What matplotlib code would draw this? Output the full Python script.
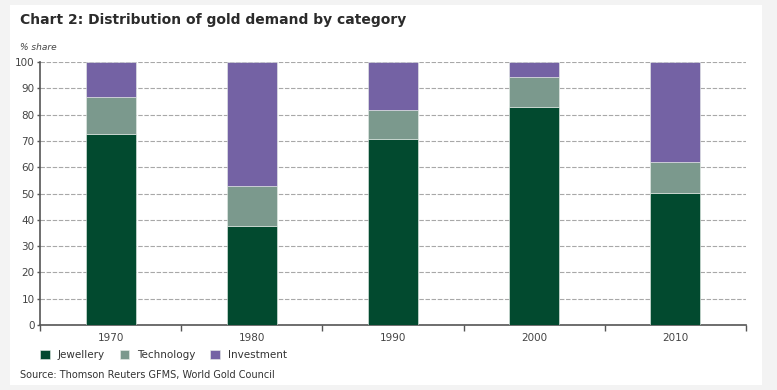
import numpy as np
import matplotlib
matplotlib.use('Agg')
import matplotlib.pyplot as plt
from matplotlib.patches import Rectangle

years = ['1970', '1980', '1990', '2000', '2010']
jewellery = [72.5, 37.5, 70.7, 82.8, 50.3]
technology = [14.3, 15.4, 10.9, 11.4, 11.5]
investment = [13.2, 47.1, 18.4, 5.8, 38.2]
series_names = ['Jewellery', 'Technology', 'Investment']
colors = ['#024a2f', '#7b998d', '#7462a4']

fig = plt.figure(figsize=(7.77, 3.90), dpi=100)
fig.patch.set_facecolor('#f3f3f3')
# white panel
fig.add_artist(Rectangle((10/777, 5/390), 752/777, 380/390, transform=fig.transFigure,
                         facecolor='white', edgecolor='none', zorder=0))

ax = fig.add_axes([40/777, 65/390, 706/777, 263/390])
ax.set_facecolor('none')

x = np.arange(len(years))
bw = 0.355
bottom = np.zeros(len(years))
for vals, col, name in zip([jewellery, technology, investment], colors, series_names):
    ax.bar(x, vals, bw, bottom=bottom, color=col, edgecolor='#e8eee9', linewidth=0.4,
           label=name, zorder=3)
    bottom = bottom + np.array(vals)

ax.set_xlim(-0.5, len(years) - 0.5)
ax.set_ylim(0, 100)
ax.set_yticks(np.arange(0, 101, 10))
ax.yaxis.grid(True, color='#a8a8a8', linestyle=(0, (4, 1.5)), linewidth=0.8, zorder=1)
ax.set_axisbelow(True)

ax.set_xticks(x)
ax.set_xticklabels(years)
ax.set_xticks(np.arange(-0.5, len(years)), minor=True)
ax.tick_params(axis='x', which='major', length=0, pad=6, labelsize=7.5, labelcolor='#444444')
ax.tick_params(axis='x', which='minor', length=4, width=1, color='#555555', direction='out')
ax.tick_params(axis='y', length=2, width=1, color='#555555', pad=2, labelsize=7.5, labelcolor='#444444')

for s in ['top', 'right']:
    ax.spines[s].set_visible(False)
for s in ['left', 'bottom']:
    ax.spines[s].set_color('#555555')
    ax.spines[s].set_linewidth(1.2)

fig.text(20/777, 1 - 20/390, 'Chart 2: Distribution of gold demand by category',
         fontsize=10, fontweight='bold', color='#2b2b2b', va='center', ha='left')
fig.text(20/777, 1 - 47/390, '% share', fontsize=6.5, style='italic', color='#444444',
         va='center', ha='left')

leg = fig.legend(loc='center left', bbox_to_anchor=(36/777, 1 - 355/390), ncol=3,
                 frameon=False, fontsize=7.5, handlelength=0.9, handleheight=0.9,
                 columnspacing=1.4, handletextpad=0.8, borderaxespad=0)
for t in leg.get_texts():
    t.set_color('#333333')

fig.text(20/777, 1 - 375/390, 'Source: Thomson Reuters GFMS, World Gold Council',
         fontsize=7, color='#333333', va='center', ha='left')

fig.savefig('out.png', dpi=100, facecolor=fig.get_facecolor())
